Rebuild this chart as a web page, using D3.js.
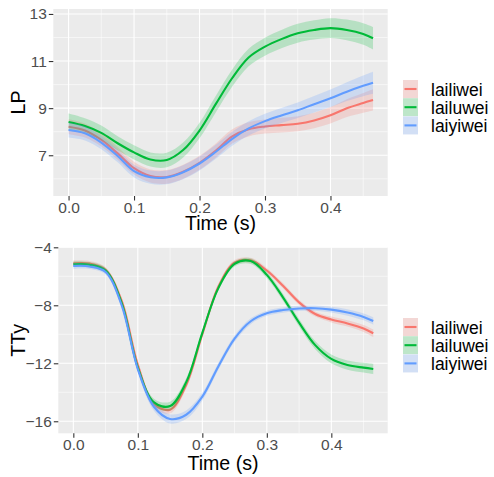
<!DOCTYPE html>
<html>
<head>
<meta charset="utf-8">
<script src="https://cdn.jsdelivr.net/npm/d3@7"></script>
<style>
  body { margin: 0; background: #fff; }
  text { font-family: "Liberation Sans", Arial, sans-serif; }
</style>
</head>
<body>
<script>
// time grid (s)
const time = [0, 0.025, 0.05, 0.075, 0.1, 0.125, 0.15, 0.175, 0.2, 0.225, 0.25, 0.275, 0.3, 0.325, 0.35, 0.375, 0.4, 0.425, 0.45, 0.465];

const groups = ["lailiwei", "lailuwei", "laiyiwei"];
const colors = ["#F8766D", "#00BA38", "#619CFF"];

// LP smooths
const lpLailiwei = [8.21, 8.05, 7.65, 7.08, 6.45, 6.12, 6.08, 6.30, 6.68, 7.20, 7.80, 8.10, 8.22, 8.28, 8.34, 8.48, 8.70, 9.00, 9.22, 9.35];
const lpLailuwei = [8.41, 8.24, 7.95, 7.51, 7.12, 6.82, 6.80, 7.22, 8.05, 9.18, 10.28, 11.15, 11.61, 11.93, 12.18, 12.32, 12.40, 12.32, 12.15, 11.97];
const lpLaiyiwei = [8.07, 7.93, 7.54, 6.97, 6.33, 6.07, 6.06, 6.28, 6.65, 7.15, 7.70, 8.14, 8.45, 8.69, 8.91, 9.17, 9.42, 9.70, 9.95, 10.08];
const lpSe = [
  [0.32, 0.30, 0.28, 0.27, 0.27, 0.28, 0.29, 0.30, 0.30, 0.30, 0.30, 0.30, 0.30, 0.31, 0.32, 0.33, 0.35, 0.38, 0.42, 0.45],
  [0.36, 0.33, 0.31, 0.30, 0.30, 0.30, 0.31, 0.32, 0.33, 0.35, 0.36, 0.37, 0.38, 0.39, 0.40, 0.41, 0.42, 0.44, 0.46, 0.48],
  [0.32, 0.30, 0.28, 0.27, 0.27, 0.28, 0.29, 0.30, 0.30, 0.30, 0.30, 0.30, 0.31, 0.32, 0.33, 0.35, 0.37, 0.40, 0.44, 0.47]
];

// TTy smooths
const ttyLailiwei = [-5.10, -5.12, -5.55, -7.70, -12.1, -14.8, -15.2, -13.5, -10.0, -6.70, -5.05, -4.90, -5.60, -6.65, -7.80, -8.60, -8.98, -9.25, -9.60, -9.93];
const ttyLailuwei = [-5.17, -5.20, -5.60, -7.85, -12.3, -14.7, -14.95, -13.3, -9.90, -6.80, -5.15, -4.95, -5.90, -7.45, -9.20, -10.75, -11.70, -12.12, -12.30, -12.39];
const ttyLaiyiwei = [-5.29, -5.32, -5.70, -8.00, -12.4, -15.0, -15.84, -15.55, -14.3, -12.2, -10.3, -9.10, -8.55, -8.33, -8.22, -8.20, -8.30, -8.50, -8.80, -9.08];
const ttySe = [
  [0.20, 0.18, 0.18, 0.18, 0.20, 0.24, 0.26, 0.24, 0.20, 0.18, 0.18, 0.18, 0.18, 0.18, 0.18, 0.18, 0.20, 0.22, 0.24, 0.26],
  [0.20, 0.18, 0.18, 0.18, 0.20, 0.26, 0.30, 0.26, 0.20, 0.18, 0.18, 0.20, 0.22, 0.24, 0.26, 0.28, 0.30, 0.32, 0.34, 0.36],
  [0.20, 0.18, 0.18, 0.18, 0.22, 0.28, 0.32, 0.30, 0.26, 0.24, 0.22, 0.20, 0.18, 0.18, 0.18, 0.18, 0.20, 0.22, 0.24, 0.26]
];

const xTicks = [0, 0.1, 0.2, 0.3, 0.4];
const xMinor = [0.05, 0.15, 0.25, 0.35, 0.45];
const lpTicks = [7, 9, 11, 13];
const lpMinor = [6, 8, 10, 12];
const ttyTicks = [-16, -12, -8, -4];
const ttyMinor = [-14, -10, -6];

const W = 494, H = 477;
const svg = d3.select("body").append("svg").attr("width", W).attr("height", H);

function panel(opt) {
  const x = d3.scaleLinear().domain([-0.0233, 0.4874]).range([opt.left, 387.7]);
  const y = d3.scaleLinear().domain(opt.yDomain).range([opt.bottom, opt.top]);
  const g = svg.append("g");

  g.append("rect").attr("x", opt.left).attr("y", opt.top)
    .attr("width", 387.7 - opt.left).attr("height", opt.bottom - opt.top)
    .attr("fill", "#EBEBEB");

  // grid
  g.selectAll(".ymin").data(opt.yMinor).join("line")
    .attr("x1", opt.left).attr("x2", 387.7)
    .attr("y1", d => y(d)).attr("y2", d => y(d))
    .attr("stroke", "#fff").attr("stroke-width", 0.55);
  g.selectAll(".xmin").data(xMinor).join("line")
    .attr("y1", opt.top).attr("y2", opt.bottom)
    .attr("x1", d => x(d)).attr("x2", d => x(d))
    .attr("stroke", "#fff").attr("stroke-width", 0.55);
  g.selectAll(".ymaj").data(opt.yTicks).join("line")
    .attr("x1", opt.left).attr("x2", 387.7)
    .attr("y1", d => y(d)).attr("y2", d => y(d))
    .attr("stroke", "#fff").attr("stroke-width", 1.1);
  g.selectAll(".xmaj").data(xTicks).join("line")
    .attr("y1", opt.top).attr("y2", opt.bottom)
    .attr("x1", d => x(d)).attr("x2", d => x(d))
    .attr("stroke", "#fff").attr("stroke-width", 1.1);

  const area = d3.area().curve(d3.curveCatmullRom)
    .x((d, i) => x(time[i]))
    .y0((d, i) => y(d.v - d.se)).y1((d, i) => y(d.v + d.se));
  const line = d3.line().curve(d3.curveCatmullRom)
    .x((d, i) => x(time[i])).y(d => y(d.v));

  opt.series.forEach((vals, k) => {
    const pts = vals.map((v, i) => ({ v: v, se: opt.se[k][i] }));
    g.append("path").datum(pts).attr("d", area)
      .attr("fill", colors[k]).attr("fill-opacity", 0.22);
    g.append("path").datum(pts).attr("d", line)
      .attr("fill", "none").attr("stroke", colors[k]).attr("stroke-width", 2.1);
  });

  // axes
  const ya = d3.axisLeft(y).tickValues(opt.yTicks).tickSize(4.5).tickPadding(2).tickFormat(d3.format("d"));
  const xa = d3.axisBottom(x).tickValues(xTicks).tickSize(4.5).tickPadding(1.5).tickFormat(d3.format(".1f"));
  const gy = g.append("g").attr("transform", `translate(${opt.left},0)`).call(ya);
  const gx = g.append("g").attr("transform", `translate(0,${opt.bottom})`).call(xa);
  [gy, gx].forEach(a => {
    a.select(".domain").remove();
    a.selectAll(".tick line").attr("stroke", "#333").attr("stroke-width", 1.1);
    a.selectAll(".tick text").attr("fill", "#4D4D4D").style("font-size", "15.5px");
  });

  g.append("text").attr("x", (opt.left + 387.7) / 2).attr("y", opt.bottom + opt.xTitleDy)
    .attr("text-anchor", "middle").style("font-size", "19.6px").attr("fill", "#000")
    .text("Time (s)");
  g.append("text")
    .attr("transform", `translate(${opt.titleX},${(opt.top + opt.bottom) / 2}) rotate(-90)`)
    .attr("text-anchor", "middle").style("font-size", "19.6px").attr("fill", "#000")
    .text(opt.title);

  // legend
  const lg = g.append("g").attr("transform", `translate(403,${opt.legendTop})`);
  groups.forEach((name, k) => {
    const r = lg.append("g").attr("transform", `translate(0,${k * 18.2})`);
    r.append("rect").attr("width", 15).attr("height", 18).attr("fill", "#F2F2F2");
    r.append("rect").attr("width", 15).attr("height", 18)
      .attr("fill", colors[k]).attr("fill-opacity", 0.22);
    r.append("line").attr("x1", 1.5).attr("x2", 13.5).attr("y1", 9).attr("y2", 9)
      .attr("stroke", colors[k]).attr("stroke-width", 2.1);
    r.append("text").attr("x", 28).attr("y", 15.5).style("font-size", "17.5px")
      .attr("fill", "#000").text(name);
  });
}

panel({
  left: 53.3, top: 9, bottom: 196, yDomain: [5.27, 13.21],
  yTicks: lpTicks, yMinor: lpMinor, series: [lpLailiwei, lpLailuwei, lpLaiyiwei], se: lpSe,
  title: "LP", titleX: 25, xTitleDy: 34, legendTop: 80
});
panel({
  left: 58.3, top: 247.3, bottom: 433.3, yDomain: [-16.83, -4.0],
  yTicks: ttyTicks, yMinor: ttyMinor, series: [ttyLailiwei, ttyLailuwei, ttyLaiyiwei], se: ttySe,
  title: "TTy", titleX: 24.5, xTitleDy: 36.5, legendTop: 318
});
</script>
</body>
</html>
